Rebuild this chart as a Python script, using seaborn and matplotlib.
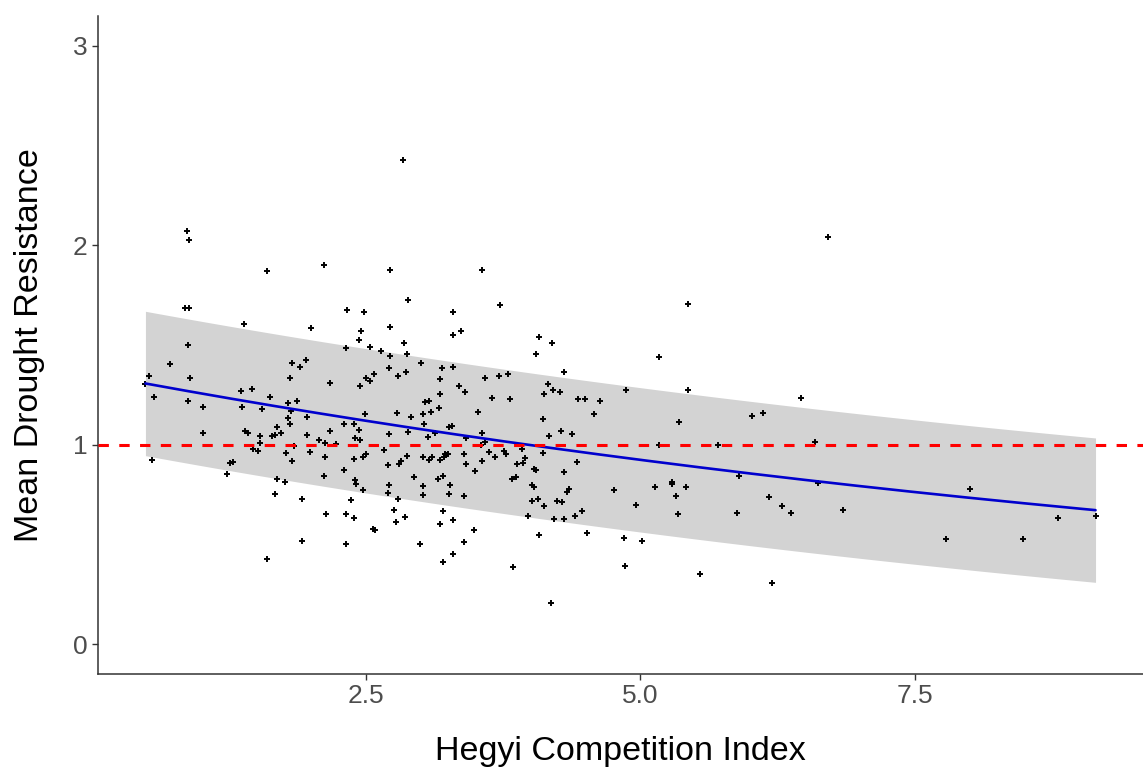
import numpy as np
import pandas as pd
import matplotlib
matplotlib.use("Agg")
import matplotlib.pyplot as plt
import seaborn as sns

# Hegyi competition index of each tree
hegyi = [
    0.875, 0.897, 1.603, 2.118, 0.861, 0.891, 1.397, 2.003, 0.885, 0.724,
    1.833, 1.957, 1.903, 0.533, 0.906, 1.809, 0.497, 1.364, 1.466, 1.627,
    0.576, 0.885, 1.021, 1.376, 1.561, 1.796, 1.879, 1.824, 1.796, 1.969,
    1.809, 1.697, 1.021, 1.406, 1.434, 1.536, 1.652, 1.676, 1.733, 1.969,
    2.073, 2.127, 2.173, 1.536, 1.845, 1.479, 1.524, 1.776, 1.994, 1.833,
    2.127, 0.555, 1.270, 1.297, 1.239, 1.697, 1.764, 2.118, 1.673, 1.924,
    2.142, 1.924, 1.603, 2.333, 2.436, 2.324, 2.176, 2.445, 2.303, 2.391,
    2.233, 2.400, 2.442, 2.394, 2.303, 2.403, 2.415, 2.370, 2.324, 2.391,
    2.324, 2.839, 2.724, 3.558, 2.882, 3.727, 2.485, 3.297, 2.724, 2.461,
    3.367, 3.297, 2.852, 2.539, 2.642, 2.724, 2.873, 3.006, 2.712, 3.194,
    3.297, 2.506, 2.539, 2.576, 2.791, 2.864, 3.179, 3.591, 3.718, 3.797,
    3.352, 3.409, 3.179, 3.648, 3.818, 3.045, 3.079, 3.170, 2.497, 2.782,
    3.021, 3.097, 3.524, 2.915, 3.033, 3.261, 3.285, 2.882, 2.712, 3.136,
    3.558, 2.448, 3.067, 3.418, 3.591, 3.548, 2.667, 3.221, 3.248, 3.397,
    3.627, 3.682, 3.764, 3.779, 2.473, 2.506, 2.873, 3.021, 3.079, 3.100,
    3.179, 3.212, 3.233, 3.558, 3.418, 2.824, 2.803, 2.700, 3.879, 3.497,
    2.942, 3.155, 3.203, 3.830, 3.866, 2.712, 3.021, 3.270, 2.473, 2.700,
    3.021, 3.261, 3.397, 2.791, 2.757, 3.203, 2.861, 2.773, 3.294, 3.179,
    2.564, 2.585, 3.491, 3.397, 2.997, 3.294, 3.203, 3.842, 5.430, 4.082,
    4.197, 4.048, 5.167, 4.309, 4.164, 4.127, 4.209, 4.267, 4.870, 5.430,
    4.436, 4.494, 4.630, 4.576, 4.115, 5.351, 4.279, 4.173, 4.379, 5.167,
    3.921, 4.115, 4.424, 3.933, 3.955, 4.036, 4.048, 4.309, 4.012, 4.036,
    4.355, 4.333, 4.758, 5.130, 5.285, 5.291, 5.418, 5.324, 4.012, 4.073,
    4.127, 4.243, 4.288, 4.961, 5.339, 3.982, 4.218, 4.309, 4.403, 4.470,
    4.082, 4.515, 4.848, 5.018, 4.858, 5.545, 4.185, 6.709, 6.458, 6.012,
    6.115, 5.706, 6.594, 5.897, 6.618, 8.000, 6.170, 6.288, 6.367, 5.876,
    6.845, 8.800, 9.142, 7.782, 8.482, 6.197,
]

# Mean drought resistance of each tree
resistance = [
    2.072, 2.029, 1.870, 1.902, 1.687, 1.687, 1.606, 1.587, 1.499, 1.403,
    1.410, 1.423, 1.391, 1.346, 1.335, 1.335, 1.303, 1.271, 1.278, 1.239,
    1.239, 1.221, 1.191, 1.189, 1.178, 1.208, 1.221, 1.171, 1.132, 1.139,
    1.102, 1.089, 1.057, 1.070, 1.057, 1.044, 1.044, 1.050, 1.057, 1.050,
    1.024, 1.010, 1.070, 1.007, 0.993, 0.980, 0.968, 0.957, 0.963, 0.918,
    0.938, 0.925, 0.907, 0.913, 0.855, 0.829, 0.811, 0.843, 0.754, 0.729,
    0.652, 0.515, 0.426, 1.674, 1.525, 1.485, 1.310, 1.296, 1.102, 1.102,
    1.003, 1.032, 1.074, 0.930, 0.875, 0.823, 0.804, 0.721, 0.654, 0.634,
    0.502, 2.430, 1.877, 1.877, 1.725, 1.699, 1.663, 1.663, 1.592, 1.568,
    1.568, 1.549, 1.510, 1.492, 1.468, 1.447, 1.455, 1.410, 1.385, 1.385,
    1.390, 1.335, 1.321, 1.353, 1.346, 1.365, 1.328, 1.335, 1.346, 1.353,
    1.296, 1.263, 1.253, 1.233, 1.228, 1.214, 1.219, 1.183, 1.153, 1.159,
    1.153, 1.164, 1.164, 1.139, 1.102, 1.091, 1.096, 1.064, 1.052, 1.057,
    1.057, 1.025, 1.039, 1.032, 1.014, 0.998, 0.973, 0.955, 0.955, 0.955,
    0.962, 0.940, 0.970, 0.955, 0.937, 0.955, 0.943, 0.937, 0.925, 0.937,
    0.925, 0.937, 0.948, 0.918, 0.905, 0.918, 0.905, 0.898, 0.905, 0.868,
    0.836, 0.829, 0.843, 0.829, 0.836, 0.798, 0.793, 0.798, 0.773, 0.759,
    0.748, 0.753, 0.741, 0.729, 0.672, 0.666, 0.636, 0.614, 0.620, 0.602,
    0.579, 0.572, 0.572, 0.513, 0.502, 0.452, 0.413, 0.388, 1.706, 1.542,
    1.512, 1.455, 1.442, 1.366, 1.303, 1.253, 1.273, 1.266, 1.273, 1.273,
    1.229, 1.229, 1.221, 1.153, 1.128, 1.114, 1.070, 1.045, 1.052, 1.000,
    0.976, 0.957, 0.912, 0.907, 0.932, 0.880, 0.873, 0.862, 0.799, 0.786,
    0.779, 0.761, 0.774, 0.786, 0.804, 0.813, 0.786, 0.743, 0.718, 0.729,
    0.692, 0.718, 0.711, 0.697, 0.654, 0.641, 0.629, 0.629, 0.641, 0.667,
    0.547, 0.558, 0.533, 0.515, 0.390, 0.351, 0.206, 2.041, 1.233, 1.144,
    1.157, 0.998, 1.014, 0.843, 0.806, 0.779, 0.736, 0.691, 0.659, 0.659,
    0.672, 0.634, 0.641, 0.527, 0.527, 0.306,
]

# Log-link model: log(resistance) = intercept + slope * hegyi
fit_intercept = 0.306
fit_slope = -0.0770
# Half-width of the prediction band
band_halfwidth = 0.362

reference_level = 1.0
x_ticks = [2.5, 5.0, 7.5]
x_tick_labels = ["2.5", "5.0", "7.5"]
y_ticks = [0, 1, 2, 3]
y_tick_labels = ["0", "1", "2", "3"]

df = pd.DataFrame({"hegyi": hegyi, "resistance": resistance})

grid = np.linspace(df["hegyi"].min(), df["hegyi"].max(), 200)
pred = np.exp(fit_intercept + fit_slope * grid)
fit_df = pd.DataFrame({"hegyi": grid, "fit": pred,
                       "lower": pred - band_halfwidth,
                       "upper": pred + band_halfwidth})

sns.set_theme(style="white")
plt.rcParams["font.family"] = ["Liberation Sans", "DejaVu Sans"]

fig = plt.figure(figsize=(11.43, 7.68), dpi=100)
ax = fig.add_axes([0.0857, 0.1224, 0.9143, 0.8568])

ax.fill_between(fit_df["hegyi"], fit_df["lower"], fit_df["upper"],
                color="#D3D3D3", linewidth=0, zorder=1)
sns.scatterplot(data=df, x="hegyi", y="resistance", marker="+", color="black",
                s=15, linewidth=1.4, ax=ax, zorder=3, legend=False)
sns.lineplot(data=fit_df, x="hegyi", y="fit", color="#0000CD", linewidth=1.9,
             ax=ax, zorder=4)
ax.axhline(reference_level, color="#FF0000", linewidth=2.2,
           dashes=(3.4, 3.4), zorder=5)

ax.set_xlim(0.065, 9.574)
ax.set_ylim(-0.15, 3.15)
ax.set_xticks(x_ticks)
ax.set_xticklabels(x_tick_labels)
ax.set_yticks(y_ticks)
ax.set_yticklabels(y_tick_labels)

for side in ["top", "right"]:
    ax.spines[side].set_visible(False)
for side in ["left", "bottom"]:
    ax.spines[side].set_color("#333333")
    ax.spines[side].set_linewidth(1.1)

ax.tick_params(axis="both", which="major", direction="out", length=4.5,
               width=1.0, color="#333333", labelsize=19, labelcolor="#4D4D4D",
               pad=3, left=True, bottom=True)

ax.set_xlabel("Hegyi Competition Index", fontsize=24.5, color="black", labelpad=20)
ax.set_ylabel("Mean Drought Resistance", fontsize=24.5, color="black", labelpad=20)

fig.savefig("out.png", dpi=100)
